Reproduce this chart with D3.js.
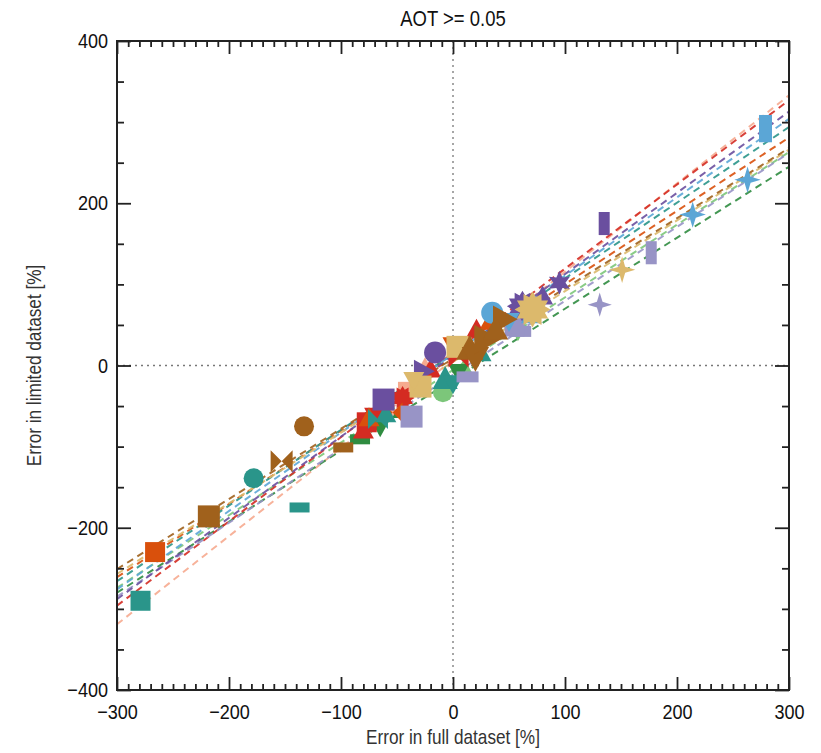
<!DOCTYPE html>
<html>
<head>
<meta charset="utf-8">
<script src="https://cdn.jsdelivr.net/npm/d3@7"></script>
<style>
  html, body { margin: 0; padding: 0; background: #fff; }
  svg { display: block; }
  text { font-family: "Liberation Sans", Arial, Helvetica, sans-serif; }
</style>
</head>
<body>
<svg id="chart" width="821" height="753"></svg>
<script>
// ---- data -------------------------------------------------------------
// drawing order of the data sets (later ones lie on top)
const groups = ["salmon", "lightgreen", "darkgreen", "red", "orange", "teal",
                "lavender", "purple", "lightblue", "tan", "brown"];

const groupColors = {
  purple: "#6a4f9f", lavender: "#9894c6", lightblue: "#5ba6d6", teal: "#2a958a",
  lightgreen: "#7cc67a", darkgreen: "#2f8c40", tan: "#dcb96c", brown: "#a0611c",
  orange: "#d9500c", red: "#d42b22", salmon: "#f6aa8f"
};

// regression line of each data set, value at x = -300 and x = +300
const fitAtMin = { salmon: -319, red: -296, purple: -288, lavender: -285, lightblue: -276,
  lightgreen: -274, teal: -266, orange: -261, tan: -257, brown: -251, darkgreen: -280 };
const fitAtMax = { salmon: 333, red: 327, purple: 313, lavender: 262, lightblue: 304,
  lightgreen: 263, teal: 294, orange: 281, tan: 266, brown: 268, darkgreen: 245 };

// points: [error full, error limited, symbol, size]
const points = {
  salmon: [[-60, -55, "jagged", 9], [-25, -2, "triUp", 9], [-42, -30, "square", 8]],
  lightgreen: [[-9, -33, "circle", 10], [10, -5, "triUp", 10], [58, 42, "triDown", 9]],
  darkgreen: [[-83, -91, "hbar", 10], [-65, -75, "triDown", 10], [-45, -55, "triUp", 10], [5, -8, "triDown", 10]],
  red: [[-77, -70, "square", 10], [-80, -80, "triUp", 10], [-70, -62, "triDown", 10], [-45, -40, "jagged", 10],
        [-20, -5, "triUp", 10], [5, 10, "bowtie", 10], [21, 44, "triUp", 10]],
  orange: [[-266, -230, "square", 10], [-54, -58, "bowtie", 10], [-75, -65, "triUp", 10], [0, 25, "triDown", 10],
           [33, 54, "triUp", 10]],
  teal: [[-279, -290, "square", 10], [-178, -139, "circle", 10], [-137, -175, "hbar", 10], [-67, -66, "bowtie", 10],
         [-60, -60, "triUp", 10], [-7, -17, "triUp", 12], [0, -22, "triDown", 10], [25, 15, "triUp", 10]],
  lavender: [[-37, -63, "square", 11], [13, -14, "hbar", 11], [60, 42, "hbar", 11], [55, 48, "square", 10],
             [131, 75, "star4", 11], [177, 139, "vbar", 11]],
  purple: [[-62, -42, "square", 11], [-27, -7, "triRight", 11], [-16, 16, "circle", 11], [62, 73, "jagged", 13],
           [95, 102, "star6", 11], [135, 175, "vbar", 11], [80, 85, "triUp", 10]],
  lightblue: [[35, 65, "circle", 11], [50, 55, "triDown", 10], [70, 62, "triUp", 10], [214, 186, "star4", 12],
              [263, 229, "star4", 12], [279, 292, "vbar", 13]],
  tan: [[-29, -26, "square", 11], [4, 23, "square", 11], [-35, -18, "triDown", 10], [71, 69, "jagged", 15],
        [151, 118, "star4", 12]],
  brown: [[-218, -186, "square", 11], [-153, -118, "bowtie", 11], [-133, -75, "circle", 10], [-98, -101, "hbar", 10],
          [15, 20, "triUp", 13], [20, 10, "triDown", 13], [29, 32, "triRight", 14], [45, 57, "triRight", 13],
          [38, 44, "triUp", 12]]
};

const xTicks = [-300, -200, -100, 0, 100, 200, 300];
const yTicks = [-400, -200, 0, 200, 400];

// ---- layout -----------------------------------------------------------
const svg = d3.select("#chart");
const L = 117, R = 789, T = 41, B = 690;
const NARROW = 0.86;   // horizontal squeeze for the condensed lettering

const x = d3.scaleLinear().domain([-300, 300]).range([L, R]);
const y = d3.scaleLinear().domain([-400, 400]).range([B, T]);

const plot = svg.append("g");
svg.append("clipPath").attr("id", "clip")
  .append("rect").attr("x", L).attr("y", T).attr("width", R - L).attr("height", B - T);

// zero reference lines
plot.append("line").attr("x1", L).attr("x2", R).attr("y1", y(0)).attr("y2", y(0))
  .attr("stroke", "#777").attr("stroke-width", 1.3).attr("stroke-dasharray", "2,4");
plot.append("line").attr("x1", x(0)).attr("x2", x(0)).attr("y1", T).attr("y2", B)
  .attr("stroke", "#777").attr("stroke-width", 1.3).attr("stroke-dasharray", "2,4");

// marker shapes, centred on the origin, r is half size
function shapePath(kind, r) {
  const p = d3.path();
  const poly = pts => { pts.forEach((q, i) => i ? p.lineTo(q[0], q[1]) : p.moveTo(q[0], q[1])); p.closePath(); };
  const star = (n, ro, ri) => {
    const pts = [];
    for (let i = 0; i < 2 * n; i++) {
      const a = -Math.PI / 2 + i * Math.PI / n;
      const rr = i % 2 ? ri : ro;
      pts.push([rr * Math.cos(a), rr * Math.sin(a)]);
    }
    poly(pts);
  };
  switch (kind) {
    case "circle": p.arc(0, 0, r, 0, 2 * Math.PI); break;
    case "square": poly([[-r, -r], [r, -r], [r, r], [-r, r]]); break;
    case "triUp": poly([[0, -r * 1.1], [r * 1.05, r * 0.8], [-r * 1.05, r * 0.8]]); break;
    case "triDown": poly([[0, r * 1.1], [r * 1.05, -r * 0.8], [-r * 1.05, -r * 0.8]]); break;
    case "triRight": poly([[r * 1.1, 0], [-r * 0.8, r * 1.05], [-r * 0.8, -r * 1.05]]); break;
    case "bowtie": poly([[-r, -r], [0, 0], [-r, r]]); poly([[r, -r], [0, 0], [r, r]]); break;
    case "hbar": poly([[-r, -r * 0.5], [r, -r * 0.5], [r, r * 0.5], [-r, r * 0.5]]); break;
    case "vbar": poly([[-r * 0.5, -r * 1.05], [r * 0.5, -r * 1.05], [r * 0.5, r * 1.05], [-r * 0.5, r * 1.05]]); break;
    case "star4": star(4, r * 1.1, r * 0.36); break;
    case "star6": star(6, r * 1.1, r * 0.55); break;
    case "jagged": star(12, r * 1.2, r * 0.85); break;
  }
  return p.toString();
}

const content = plot.append("g").attr("clip-path", "url(#clip)");

// fitted lines underneath, symbols on top
groups.forEach(g => {
  content.append("line")
    .attr("x1", x(-300)).attr("y1", y(fitAtMin[g]))
    .attr("x2", x(300)).attr("y2", y(fitAtMax[g]))
    .attr("stroke", groupColors[g]).attr("stroke-width", 2)
    .attr("stroke-opacity", 0.9)
    .attr("stroke-dasharray", "7,5");
});
groups.forEach(g => {
  content.append("g").selectAll("path")
    .data(points[g]).join("path")
    .attr("transform", d => `translate(${x(d[0])},${y(d[1])})`)
    .attr("d", d => shapePath(d[2], d[3]))
    .attr("fill", groupColors[g]);
});

// ---- axes ---------------------------------------------------------------
const axisColor = "#222";
function styleAxis(sel, labels) {
  sel.select(".domain").remove();
  sel.selectAll("line").attr("stroke", axisColor).attr("stroke-width", 1.8);
  sel.selectAll("text").attr("fill", "#111").attr("font-size", labels ? 21 : 0)
    .attr("font-family", "Liberation Sans, Arial, sans-serif");
  if (labels) {
    sel.selectAll("text").each(function () {
      const t = d3.select(this);
      const xv = +t.attr("x") || 0;
      t.attr("x", xv / NARROW).attr("transform", `scale(${NARROW},1)`);
    });
  }
}
const fmt = d3.format("d");
const xMinor = d3.range(-300, 301, 10).filter(v => v % 100 !== 0);
const yMinor = d3.range(-400, 401, 50).filter(v => v % 200 !== 0);

// bottom
svg.append("g").attr("transform", `translate(0,${B})`)
  .call(d3.axisBottom(x).tickValues(xTicks).tickSize(-13).tickPadding(14).tickFormat(fmt))
  .call(s => styleAxis(s, true));
svg.append("g").attr("transform", `translate(0,${B})`)
  .call(d3.axisBottom(x).tickValues(xMinor).tickSize(-6).tickFormat(""))
  .call(s => styleAxis(s, false));
// top
svg.append("g").attr("transform", `translate(0,${T})`)
  .call(d3.axisTop(x).tickValues(xTicks).tickSize(-13).tickFormat(""))
  .call(s => styleAxis(s, false));
svg.append("g").attr("transform", `translate(0,${T})`)
  .call(d3.axisTop(x).tickValues(xMinor).tickSize(-6).tickFormat(""))
  .call(s => styleAxis(s, false));
// left
svg.append("g").attr("transform", `translate(${L},0)`)
  .call(d3.axisLeft(y).tickValues(yTicks).tickSize(-14).tickPadding(9).tickFormat(fmt))
  .call(s => styleAxis(s, true));
svg.append("g").attr("transform", `translate(${L},0)`)
  .call(d3.axisLeft(y).tickValues(yMinor).tickSize(-7).tickFormat(""))
  .call(s => styleAxis(s, false));
// right
svg.append("g").attr("transform", `translate(${R},0)`)
  .call(d3.axisRight(y).tickValues(yTicks).tickSize(-14).tickFormat(""))
  .call(s => styleAxis(s, false));
svg.append("g").attr("transform", `translate(${R},0)`)
  .call(d3.axisRight(y).tickValues(yMinor).tickSize(-7).tickFormat(""))
  .call(s => styleAxis(s, false));

// frame
svg.append("rect").attr("x", L).attr("y", T).attr("width", R - L).attr("height", B - T)
  .attr("fill", "none").attr("stroke", axisColor).attr("stroke-width", 2);

// ---- titles -------------------------------------------------------------
function narrowText(cx, cy, size, fill, str, rotate) {
  const g = svg.append("g").attr("transform", `translate(${cx},${cy})` + (rotate ? " rotate(-90)" : ""));
  g.append("text").attr("transform", `scale(${NARROW},1)`).attr("text-anchor", "middle")
    .attr("font-size", size).attr("fill", fill).text(str);
}
narrowText((L + R) / 2, 26, 21.5, "#111", "AOT >= 0.05", false);
narrowText((L + R) / 2, 744, 20, "#333", "Error in full dataset [%]", false);
narrowText(41, (T + B) / 2, 20, "#333", "Error in limited dataset [%]", true);
</script>
</body>
</html>
